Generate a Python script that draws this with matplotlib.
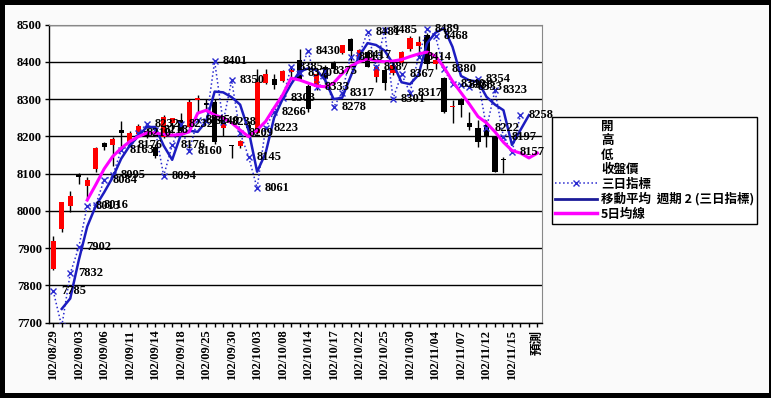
import matplotlib
matplotlib.use('Agg')
import matplotlib.pyplot as plt
from matplotlib.lines import Line2D
from matplotlib.patches import Rectangle

# categories (trading days, ROC calendar) + forecast column
dates = ['102/08/29', '102/08/30', '102/09/02', '102/09/03', '102/09/04', '102/09/05',
         '102/09/06', '102/09/09', '102/09/10', '102/09/11', '102/09/12', '102/09/13',
         '102/09/14', '102/09/16', '102/09/17', '102/09/18', '102/09/23', '102/09/24',
         '102/09/25', '102/09/26', '102/09/27', '102/09/30', '102/10/01', '102/10/02',
         '102/10/03', '102/10/04', '102/10/07', '102/10/08', '102/10/09', '102/10/11',
         '102/10/14', '102/10/15', '102/10/16', '102/10/17', '102/10/18', '102/10/21',
         '102/10/22', '102/10/23', '102/10/24', '102/10/25', '102/10/28', '102/10/29',
         '102/10/30', '102/10/31', '102/11/01', '102/11/04', '102/11/05', '102/11/06',
         '102/11/07', '102/11/08', '102/11/11', '102/11/12', '102/11/13', '102/11/14',
         '102/11/15', '102/11/18', '102/11/19', '預測']

#OHLC
openP = [7845, 7951, 8012, 8095, 8068, 8111, 8183, 8178, 8218, 8186, 8205, 8215,
         8172, 8199, 8237, 8245, 8226, 8298, 8290, 8293, 8221, 8176, 8175, 8230,
         8210, 8344, 8355, 8348, 8372, 8405, 8334, 8331, 8385, 8397, 8423, 8460,
         8410, 8425, 8360, 8379, 8371, 8398, 8433, 8441, 8473, 8395, 8356, 8279,
         8297, 8236, 8222, 8230, 8198, 8138]
highP = [7932, 8025, 8054, 8102, 8092, 8172, 8186, 8199, 8240, 8215, 8232, 8222,
         8180, 8258, 8250, 8262, 8299, 8312, 8300, 8300, 8245, 8178, 8190, 8240,
         8380, 8380, 8366, 8378, 8385, 8433, 8340, 8370, 8392, 8402, 8446, 8465,
         8435, 8430, 8392, 8385, 8395, 8428, 8468, 8470, 8478, 8410, 8360, 8297,
         8303, 8265, 8244, 8244, 8200, 8145]
lowP = [7842, 7942, 7998, 8072, 8030, 8105, 8162, 8120, 8172, 8180, 8200, 8195,
        8143, 8195, 8210, 8205, 8222, 8266, 8270, 8180, 8200, 8143, 8170, 8215,
        8205, 8340, 8326, 8345, 8360, 8350, 8264, 8325, 8340, 8370, 8420, 8401,
        8400, 8385, 8347, 8325, 8365, 8390, 8430, 8415, 8380, 8380, 8262, 8236,
        8252, 8217, 8172, 8172, 8104, 8102]
closeP = [7918, 8023, 8039, 8090, 8084, 8170, 8172, 8194, 8210, 8210, 8229, 8200,
          8146, 8253, 8250, 8215, 8293, 8302, 8283, 8186, 8234, 8175, 8188, 8222,
          8347, 8366, 8339, 8376, 8378, 8352, 8272, 8368, 8355, 8380, 8445, 8428,
          8432, 8387, 8387, 8344, 8392, 8425, 8465, 8452, 8393, 8405, 8265, 8282,
          8284, 8225, 8185, 8198, 8104, 8136]

# 三日指標 (from first day)
sanri = [7785, 7690, 7832, 7902, 8013, 8016, 8084, 8095, 8163, 8176, 8210, 8232,
         8218, 8094, 8176, 8232, 8160, 8245, 8240, 8401, 8238, 8350, 8209, 8145,
         8061, 8223, 8266, 8303, 8385, 8370, 8430, 8333, 8375, 8278, 8317, 8413,
         8417, 8481, 8387, 8485, 8301, 8367, 8317, 8414, 8489, 8468, 8380, 8340,
         8338, 8333, 8354, 8222, 8323, 8197, 8157, 8258]

# 移動平均 週期2 (starts at second day)
ma2 = [7737, 7765, 7867, 7958, 8013, 8050, 8090, 8140, 8175, 8200, 8225, 8225,
       8175, 8137, 8203, 8215, 8212, 8240, 8320, 8318, 8305, 8285, 8215, 8105,
       8155, 8250, 8300, 8340, 8374, 8382, 8378, 8351, 8300, 8303, 8360, 8415,
       8450, 8445, 8430, 8395, 8345, 8340, 8365, 8450, 8478, 8490, 8440, 8362,
       8350, 8347, 8306, 8285, 8270, 8177, 8217, 8257]

# 5日均線 (starts at fifth day)
ma5 = [8029, 8070, 8113, 8146, 8168, 8186, 8199, 8209, 8209, 8205, 8203, 8205,
       8212, 8262, 8270, 8257, 8250, 8236, 8217, 8199, 8217, 8240, 8276, 8311,
       8356, 8351, 8343, 8335, 8333, 8343, 8368, 8388, 8400, 8408, 8403, 8400,
       8402, 8406, 8414, 8421, 8426, 8415, 8385, 8348, 8317, 8286, 8253, 8236,
       8212, 8184, 8162, 8155, 8142, 8155]

W, H = 771, 398
fig = plt.figure(figsize=(W / 100, H / 100), dpi=100, facecolor='black')
fig.add_artist(Rectangle((5 / W, 5 / H), (W - 7) / W, (H - 10) / H,
                         transform=fig.transFigure, facecolor='#fafafa',
                         edgecolor='none', zorder=-10))

ax = fig.add_axes([49 / W, 1 - 322.7 / H, (541.7 - 49) / W, (322.7 - 24.5) / H])
ax.set_facecolor('#fdfdfd')

tickfont = {'family': ['Liberation Serif', 'Noto Sans CJK TC'], 'size': 9, 'weight': 'bold'}

#Candles
n = len(openP)
xs = list(range(n))
ax.vlines(xs, lowP, highP, color='black', lw=1, zorder=3)
for i in xs:
    up = closeP[i] >= openP[i]
    bottom = min(openP[i], closeP[i])
    height = max(abs(closeP[i] - openP[i]), 2)
    ax.bar(i, height, bottom=bottom, width=0.6, color='#ff0000' if up else 'black',
           edgecolor='none', zorder=4)

#Indicator lines
ax.plot(range(len(sanri)), sanri, color='#2a2ad0', ls=':', lw=1.1, marker='x',
        markersize=5, markeredgewidth=1, zorder=5)
ax.plot(range(1, 1 + len(ma2)), ma2, color='#1c1cc0', lw=1.8, zorder=6)
ax.plot(range(4, 4 + len(ma5)), ma5, color='#ff00ff', lw=2.2, zorder=6)

#Data labels for the three-day indicator
for i, v in enumerate(sanri):
    if 7700 <= v <= 8500:
        ax.annotate(str(v), (i, v), xytext=(8, 0), textcoords='offset pixels',
                    ha='left', va='center', fontsize=9, fontweight='bold',
                    family='Liberation Serif', color='black', zorder=7,
                    annotation_clip=False)

ax.set_xlim(-0.5, len(dates) - 0.5)
ax.set_ylim(7700, 8500)
ax.set_yticks(range(7700, 8501, 100))
ax.yaxis.grid(True, color='black', lw=1)
ax.set_axisbelow(True)
ax.set_xticks(range(len(dates)))
ax.set_xticklabels([d if i % 3 == 0 else '' for i, d in enumerate(dates)],
                   rotation=90, fontdict=tickfont)
for lab in ax.get_yticklabels():
    lab.set_fontproperties(matplotlib.font_manager.FontProperties(**tickfont))
ax.tick_params(axis='both', direction='out', length=3, width=1, color='black', pad=2)

for s in ['left', 'bottom']:
    ax.spines[s].set_color('black')
    ax.spines[s].set_linewidth(1)
for s in ['top', 'right']:
    ax.spines[s].set_color('#888888')
    ax.spines[s].set_linewidth(0.8)

#Legend
handles = [Line2D([], [], ls='none')] * 4 + [
    Line2D([], [], color='#2a2ad0', ls=':', lw=1.1, marker='x', markersize=5),
    Line2D([], [], color='#1c1c99', lw=2),
    Line2D([], [], color='#ff00ff', lw=2.5)]
labels = ['開', '高', '低', '收盤價', '三日指標', '移動平均  週期 2 (三日指標)', '5日均線']
leg = fig.legend(handles, labels, loc='upper left',
                 bbox_to_anchor=(551.7 / W, 1 - 116.7 / H), bbox_transform=fig.transFigure,
                 frameon=True, fancybox=False, edgecolor='black', facecolor='white',
                 framealpha=1, borderaxespad=0, borderpad=0.25, handlelength=3.4,
                 handletextpad=0.3, labelspacing=0.12,
                 prop={'family': ['Noto Sans CJK TC', 'DejaVu Sans'], 'size': 9,
                       'weight': 'bold'})
leg.get_frame().set_linewidth(1)

fig.savefig('out.png', dpi=100, facecolor=fig.get_facecolor())
